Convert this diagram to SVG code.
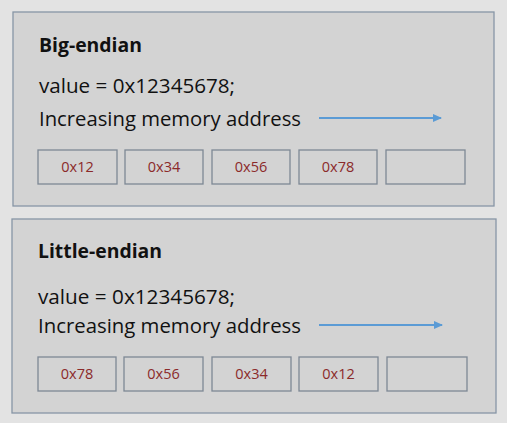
<svg xmlns="http://www.w3.org/2000/svg" width="507" height="423" viewBox="0 0 507 423">
<defs>
<style>
.panel{fill:#d3d3d3;stroke:#8796a6;stroke-width:1.3}
.cell{fill:#d3d3d3;stroke:#7d8894;stroke-width:1.3}
.title{font-family:"Open Sans","Liberation Sans",sans-serif;font-weight:bold;font-size:19px;fill:#111}
.body{font-family:"Open Sans","Liberation Sans",sans-serif;font-size:19.5px;fill:#111}
.val{font-family:"Open Sans","Liberation Sans",sans-serif;font-size:14.5px;fill:#8b2a2a;text-anchor:middle}
.arr{stroke:#5b9bd5;stroke-width:2.2;fill:none}
</style>
<marker id="ah" markerWidth="9" markerHeight="9" refX="8" refY="4.5" orient="auto" markerUnits="userSpaceOnUse">
<path d="M0,0.5 L9,4.5 L0,8.5 Z" fill="#5b9bd5"/>
</marker>
</defs>
<rect width="507" height="423" fill="#e3e3e3"/>
<g id="big-endian">
<rect class="panel" x="13" y="12" width="481" height="194"/>
<text class="title" x="39" y="52" textLength="103" lengthAdjust="spacingAndGlyphs">Big-endian</text>
<text class="body" x="39" y="93" textLength="196" lengthAdjust="spacingAndGlyphs">value = 0x12345678;</text>
<text class="body" x="39" y="126" textLength="262" lengthAdjust="spacingAndGlyphs">Increasing memory address</text>
<g id="be-c1"><rect class="cell" x="38" y="150" width="79" height="34"/><text class="val" x="77.5" y="172">0x12</text></g>
<g id="be-c2"><rect class="cell" x="125" y="150" width="78" height="34"/><text class="val" x="164" y="172">0x34</text></g>
<g id="be-c3"><rect class="cell" x="212" y="150" width="78" height="34"/><text class="val" x="251" y="172">0x56</text></g>
<g id="be-c4"><rect class="cell" x="299" y="150" width="78" height="34"/><text class="val" x="338" y="172">0x78</text></g>
<g id="be-c5"><rect class="cell" x="386" y="150" width="79" height="34"/></g>
</g>
<g id="little-endian">
<rect class="panel" x="12" y="219" width="484" height="194"/>
<text class="title" x="38" y="258" textLength="124" lengthAdjust="spacingAndGlyphs">Little-endian</text>
<text class="body" x="38" y="304" textLength="197" lengthAdjust="spacingAndGlyphs">value = 0x12345678;</text>
<text class="body" x="38" y="333" textLength="263" lengthAdjust="spacingAndGlyphs">Increasing memory address</text>
<g id="le-c1"><rect class="cell" x="38" y="357" width="78" height="34"/><text class="val" x="77" y="379">0x78</text></g>
<g id="le-c2"><rect class="cell" x="124" y="357" width="79" height="34"/><text class="val" x="163.5" y="379">0x56</text></g>
<g id="le-c3"><rect class="cell" x="212" y="357" width="79" height="34"/><text class="val" x="251.5" y="379">0x34</text></g>
<g id="le-c4"><rect class="cell" x="299" y="357" width="79" height="34"/><text class="val" x="338.5" y="379">0x12</text></g>
<g id="le-c5"><rect class="cell" x="387" y="357" width="80" height="34"/></g>
</g>
<g id="connectors">
<line class="arr" x1="319" y1="118" x2="441" y2="118" marker-end="url(#ah)"/>
<line class="arr" x1="319" y1="325" x2="442" y2="325" marker-end="url(#ah)"/>
</g>
</svg>
